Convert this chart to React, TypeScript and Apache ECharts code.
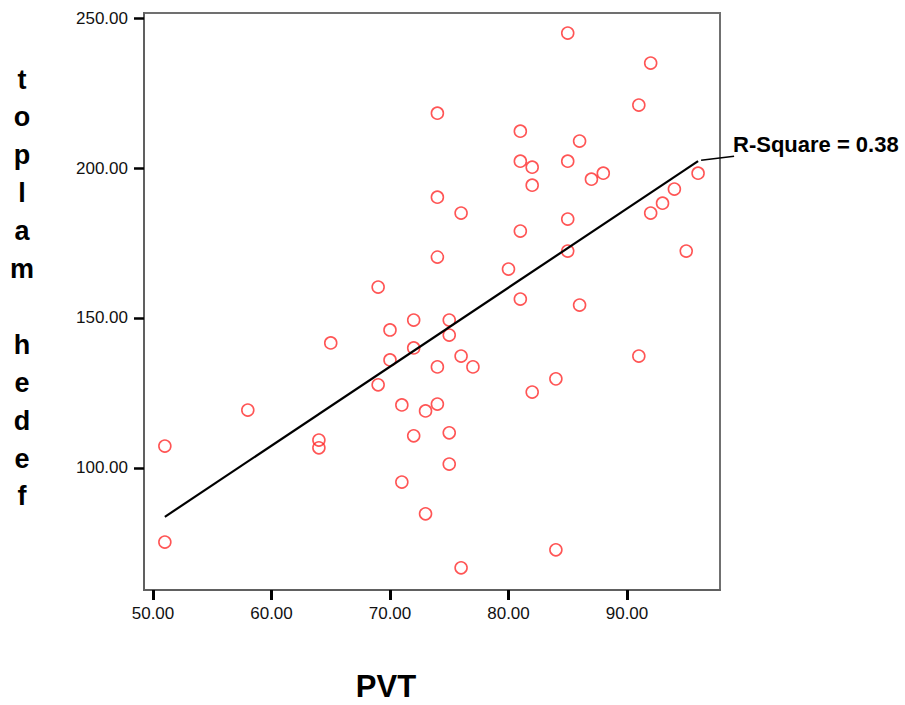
import React, { useEffect, useRef } from "react";
import * as echarts from "echarts";

// PVT (x) values and "toplam hedef" (y) values
const pvt = [
  51, 51, 58, 64, 64, 65, 69, 69, 70, 70, 71, 71, 72, 72, 72, 73, 73, 74, 74, 74,
  74, 74, 75, 75, 75, 75, 76, 76, 76, 77, 80, 81, 81, 81, 81, 82, 82, 82, 84, 84,
  85, 85, 85, 85, 86, 86, 87, 88, 91, 91, 92, 92, 93, 94, 95, 96,
];
const toplamHedef = [
  107.3, 75.3, 119.3, 109.3, 106.7, 141.7, 160.3, 127.7, 146, 136, 121, 95.3, 149.3, 140, 110.7, 119, 84.7, 218.3, 190.3, 170.3,
  133.7, 121.3, 149.3, 144.3, 111.7, 101.3, 185, 137.3, 66.7, 133.7, 166.3, 212.3, 202.3, 179, 156.3, 200.3, 194.3, 125.3, 129.7, 72.7,
  245, 202.3, 183, 172.3, 209, 154.3, 196.3, 198.3, 221, 137.3, 235, 185, 188.3, 193, 172.3, 198.3,
];

// fitted line endpoints as drawn
const fitX = [51, 96];
const fitY = [83.7, 202.3];
const rSquareLabel = "R-Square = 0.38";

const xTicks = [50, 60, 70, 80, 90];
const yTicks = [100, 150, 200, 250];
const xTitle = "PVT";
const yTitle = "toplam hedef";

export default function App() {
  const ref = useRef<HTMLDivElement>(null);
  useEffect(() => {
    if (!ref.current) return;
    const chart = echarts.init(ref.current, null, { renderer: "svg" });
    const points = pvt.map((x, i) => [x, toplamHedef[i]]);
    const fit = fitX.map((x, i) => [x, fitY[i]]);
    const tickLabel = {
      color: "#111",
      fontFamily: "Liberation Sans, Arial, sans-serif",
      fontSize: 17,
      formatter: (v: number) => Number(v).toFixed(2),
    };
    chart.setOption({
      animation: false,
      backgroundColor: "#ffffff",
      grid: {
        left: 144,
        top: 13,
        width: 576,
        height: 577,
        show: true,
        borderColor: "#707070",
        borderWidth: 2,
      },
      xAxis: {
        type: "value",
        min: 49.24,
        max: 97.85,
        splitLine: { show: false },
        axisLine: { show: true, onZero: false, lineStyle: { color: "#606060", width: 2 } },
        axisTick: {
          show: true,
          customValues: xTicks,
          length: 10,
          lineStyle: { color: "#000", width: 3 },
        },
        axisLabel: { ...tickLabel, customValues: xTicks, margin: 15 },
      },
      yAxis: {
        type: "value",
        min: 59.3,
        max: 251.7,
        splitLine: { show: false },
        axisLine: { show: true, onZero: false, lineStyle: { color: "#606060", width: 2 } },
        axisTick: {
          show: true,
          customValues: yTicks,
          length: 10,
          lineStyle: { color: "#000", width: 2.5 },
        },
        axisLabel: { ...tickLabel, customValues: yTicks, margin: 16 },
      },
      series: [
        {
          type: "scatter",
          name: "toplam hedef",
          data: points,
          symbol: "circle",
          symbolSize: 12,
          itemStyle: { color: "rgba(255,255,255,0)", borderColor: "#ff2a2a", borderWidth: 1.6 },
        },
        {
          type: "line",
          data: fit,
          showSymbol: false,
          symbol: "none",
          lineStyle: { color: "#000", width: 2.2 },
        },
      ],
    });
    const end = chart.convertToPixel({ gridIndex: 0 }, fit[1]) as number[];
    const yChars = yTitle.split("").join("\n");
    chart.setOption({
      graphic: [
        {
          type: "line",
          shape: { x1: end[0] + 3, y1: end[1] - 1, x2: end[0] + 36, y2: end[1] - 5 },
          style: { stroke: "#000", lineWidth: 1.5 },
          z: 10,
        },
        {
          type: "text",
          x: 733,
          y: 144,
          style: {
            text: rSquareLabel,
            fill: "#000",
            font: "bold 22px Liberation Sans, Arial, sans-serif",
            textAlign: "left",
            textVerticalAlign: "middle",
          },
          z: 10,
        },
        {
          type: "text",
          x: 386,
          y: 686,
          style: {
            text: xTitle,
            fill: "#000",
            font: "bold 31px Liberation Sans, Arial, sans-serif",
            textAlign: "center",
            textVerticalAlign: "middle",
          },
        },
        {
          type: "text",
          x: 22,
          y: 288,
          style: {
            text: yChars,
            fill: "#000",
            font: "bold 27px Liberation Sans, Arial, sans-serif",
            lineHeight: 37.9,
            textAlign: "center",
            textVerticalAlign: "middle",
          },
        },
      ],
    });
    return () => chart.dispose();
  }, []);
  return (
    <div
      ref={ref}
      style={{ position: "absolute", left: 0, top: 0, width: 905, height: 705 }}
    />
  );
}
